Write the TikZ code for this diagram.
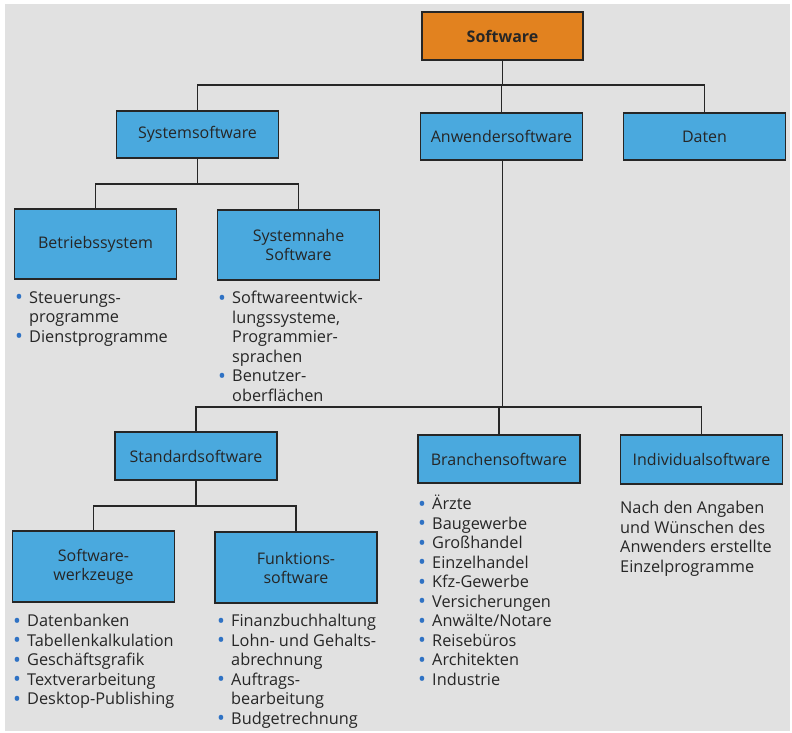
\documentclass[tikz,border=0pt]{standalone}
\usepackage{fontspec}
\setmainfont{Open Sans}
\usetikzlibrary{calc}
\definecolor{boxblue}{HTML}{4AA9DE}
\definecolor{boxorange}{HTML}{E2821F}
\definecolor{panel}{HTML}{E1E1E1}
\definecolor{dotblue}{HTML}{2F72C4}
\definecolor{edge}{HTML}{262626}
\newcommand{\bl}{\makebox[14pt][l]{\smash{\textcolor{dotblue}{\raisebox{-1.6pt}{\fontsize{21}{0}\selectfont\textbullet}}}}}
\newcommand{\ct}{\hspace*{14pt}}
\tikzset{
  x=1pt, y=-1pt,
  catbox/.style={draw=edge, line width=1.3pt, fill=boxblue, minimum width=162pt,
    align=center, inner sep=0pt, font=\fontsize{16}{19}\selectfont, text=black!85},
  rootbox/.style={catbox, fill=boxorange, font=\fontsize{16}{19}\selectfont\bfseries},
  itemlist/.style={anchor=north west, align=left, inner sep=0pt,
    font=\fontsize{16.3}{19.5}\selectfont, text=black!85},
  link/.style={draw=edge, line width=1.2pt}
}
\begin{document}
\begin{tikzpicture}
% sheet and grey panel
\fill[white] (0,0) rectangle (792,733);
\fill[panel] (5,4) rectangle (790,731);
\useasboundingbox (0,0) rectangle (792,733);

% top level
\node[rootbox, minimum width=161pt, minimum height=48pt] (sw) at (502.5,36) {Software};
\node[catbox, minimum height=47pt] (sys) at (197.5,134.5) {Systemsoftware};
\node[catbox, minimum height=47pt] (anw) at (501.5,136.5) {Anwendersoftware};
\node[catbox, minimum height=47pt] (dat) at (704.5,136.5) {Daten};

% system software branch
\node[catbox, minimum height=70pt] (bs) at (95.5,244) {Betriebssystem};
\node[catbox, minimum height=70pt] (sn) at (298.5,245) {Systemnahe\\Software};

% application software branch
\node[catbox, minimum height=48pt] (std) at (196,456) {Standardsoftware};
\node[catbox, minimum height=48pt] (br) at (499,459) {Branchensoftware};
\node[catbox, minimum height=49pt] (ind) at (701.5,459.5) {Individualsoftware};

\node[catbox, minimum height=71pt] (swz) at (93.5,566.5) {Software-\\werkzeuge};
\node[catbox, minimum height=71pt] (fk) at (296,567.5) {Funktions-\\software};

% connectors
\coordinate (j1) at (502.5,85);
\draw[link] (sw.south) -- (j1);
\draw[link] (sys.north) |- (j1) -| (dat.north);
\draw[link] (anw.north) -- (anw.north |- j1);

\coordinate (j2) at (197.5,184);
\draw[link] (sys.south) -- (j2);
\draw[link] (bs.north) |- (j2) -| (sn.north);

\coordinate (j3) at (502.5,407);
\draw[link] (anw.south -| j3) -- (j3);
\draw[link] (std.north) |- (j3) -| (ind.north);
\draw[link] (br.north) -- (br.north |- j3);

\coordinate (j4) at (196,506);
\draw[link] (std.south) -- (j4);
\draw[link] (swz.north) |- (j4) -| (fk.north);

% item lists
\node[itemlist] (lbs) at (15,291) {\bl Steuerungs-\\\ct programme\\\bl Dienstprogramme};
\node[itemlist] (lsn) at (218,291) {\bl Softwareentwick-\\\ct lungssysteme,\\\ct Programmier-\\\ct sprachen\\\bl Benutzer-\\\ct oberflächen};
\node[itemlist] (lswz) at (13,614) {\bl Datenbanken\\\bl Tabellenkalkulation\\\bl Geschäftsgrafik\\\bl Textverarbeitung\\\bl Desktop-Publishing};
\node[itemlist] (lfk) at (217,614) {\bl Finanzbuchhaltung\\\bl Lohn- und Gehalts-\\\ct abrechnung\\\bl Auftrags-\\\ct bearbeitung\\\bl Budgetrechnung};
\node[itemlist] (lbr) at (418,495) {\bl Ärzte\\\bl Baugewerbe\\\bl Großhandel\\\bl Einzelhandel\\\bl Kfz-Gewerbe\\\bl Versicherungen\\\bl Anwälte/Notare\\\bl Reisebüros\\\bl Architekten\\\bl Industrie};
\node[itemlist] (lind) at (620,501) {Nach den Angaben\\und Wünschen des\\Anwenders erstellte\\Einzelprogramme};
\end{tikzpicture}
\end{document}
